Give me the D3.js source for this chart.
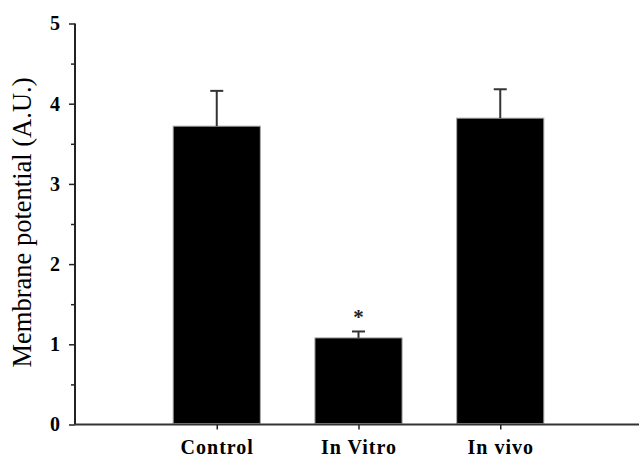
<!DOCTYPE html>
<html>
<head>
<meta charset="utf-8">
<script src="https://cdn.jsdelivr.net/npm/d3@7"></script>
<style>
  html, body { margin: 0; padding: 0; background: #fff; }
  svg { display: block; }
  text { font-family: "Liberation Serif", "Times New Roman", serif; }
</style>
</head>
<body>
<svg id="chart" width="639" height="459"></svg>
<script>
const categories = ["Control", "In Vitro", "In vivo"];
const means = [3.72, 1.08, 3.82];
const errors = [0.44, 0.08, 0.36];
const significant = [false, true, false];
const yTicks = [0, 1, 2, 3, 4, 5];
const yMinorTicks = [0.5, 1.5, 2.5, 3.5, 4.5];
const yLabel = "Membrane potential (A.U.)";

(function () {
const svg = d3.select("#chart");
const mLeft = 75, mRight = 642, mTop = 23.5, mBottom = 424.5;

const x = d3.scalePoint().domain(categories).range([mLeft, mRight]).padding(1);
const y = d3.scaleLinear().domain([0, 5]).range([mBottom, mTop]);
const barW = x.step() * 0.615;

// bars
svg.selectAll("rect.bar").data(categories).join("rect")
  .attr("class", "bar")
  .attr("x", (d) => x(d) - barW / 2)
  .attr("y", (d, i) => y(means[i]))
  .attr("width", barW)
  .attr("height", (d, i) => y(0) - y(means[i]) - 1)
  .attr("fill", "#000")
  .attr("stroke", "#aaa")
  .attr("stroke-width", 1);

// error bars
const eg = svg.append("g").attr("stroke", "#333").attr("stroke-width", 2);
eg.selectAll("line.v").data(categories).join("line")
  .attr("class", "v")
  .attr("x1", (d) => x(d)).attr("x2", (d) => x(d))
  .attr("y1", (d, i) => y(means[i]))
  .attr("y2", (d, i) => y(means[i] + errors[i]));
eg.selectAll("line.cap").data(categories).join("line")
  .attr("class", "cap")
  .attr("x1", (d) => x(d) - 6.5).attr("x2", (d) => x(d) + 6.5)
  .attr("y1", (d, i) => y(means[i] + errors[i]))
  .attr("y2", (d, i) => y(means[i] + errors[i]));

// significance
svg.selectAll("text.sig").data(categories.filter((d, i) => significant[i])).join("text")
  .attr("class", "sig")
  .attr("x", (d) => x(d))
  .attr("y", (d) => { const i = categories.indexOf(d); return y(means[i] + errors[i]) - 7; })
  .attr("text-anchor", "middle")
  .attr("font-size", 21)
  .attr("font-weight", "bold")
  .attr("fill", "#222")
  .text("*");

// y axis
const yAxis = svg.append("g").attr("transform", `translate(${mLeft},0)`)
  .call(d3.axisLeft(y).tickValues(yTicks).tickFormat(d3.format("d")).tickSize(6).tickPadding(9));
yAxis.select(".domain").attr("stroke", "#222").attr("stroke-width", 2).attr("d", `M0,${mTop}V${mBottom}`);
yAxis.selectAll(".tick line").attr("stroke", "#222").attr("stroke-width", 1.5);
yAxis.selectAll(".tick text")
  .attr("font-family", "Liberation Serif, serif")
  .attr("font-size", 20).attr("font-weight", "bold").attr("fill", "#000");

const yMinor = svg.append("g").attr("transform", `translate(${mLeft},0)`)
  .call(d3.axisLeft(y).tickValues(yMinorTicks).tickFormat("").tickSize(4));
yMinor.select(".domain").remove();
yMinor.selectAll(".tick line").attr("stroke", "#222").attr("stroke-width", 1.5);

// x axis
const xAxis = svg.append("g").attr("transform", `translate(0,${mBottom})`)
  .call(d3.axisBottom(x).tickSize(5).tickPadding(10));
xAxis.select(".domain").attr("stroke", "#333").attr("stroke-width", 2).attr("d", `M${mLeft},0H639`);
xAxis.selectAll(".tick line").attr("stroke", "#222").attr("stroke-width", 1.5);
xAxis.selectAll(".tick text")
  .attr("font-family", "Liberation Serif, serif")
  .attr("font-size", 20).attr("font-weight", "bold").attr("fill", "#000")
  .attr("letter-spacing", 1);

// y label
svg.append("text")
  .attr("transform", `translate(31,${(78 + 367) / 2}) rotate(-90)`)
  .attr("text-anchor", "middle")
  .attr("font-size", 26.5)
  .attr("fill", "#000")
  .text(yLabel);
})();
</script>
</body>
</html>
